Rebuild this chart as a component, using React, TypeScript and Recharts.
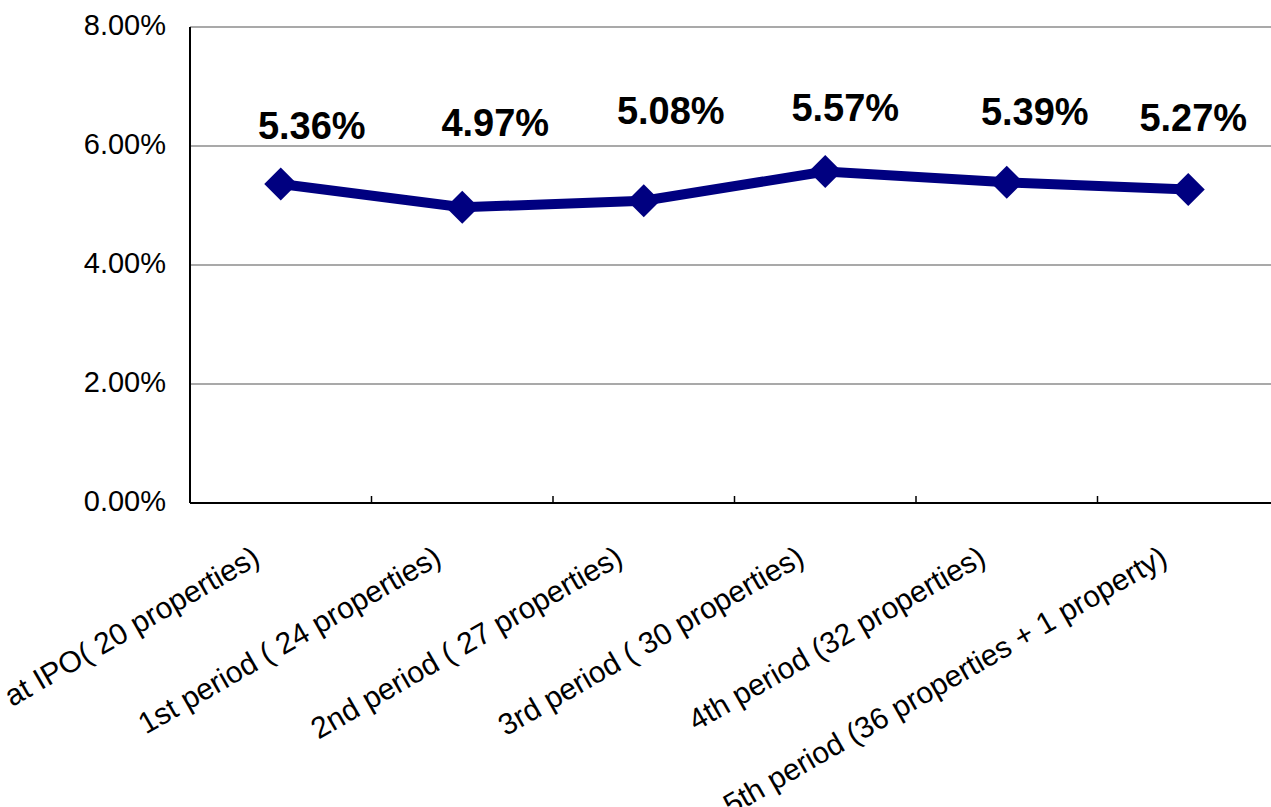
import React from "react";
import { LineChart, Line, XAxis, YAxis, CartesianGrid, LabelList } from "recharts";

const periods = [
    "at IPO( 20 properties)",
    "1st period ( 24 properties)",
    "2nd period ( 27 properties)",
    "3rd period ( 30 properties)",
    "4th period (32 properties)",
    "5th period (36 properties + 1 property)",
];
const yieldPct = [5.36, 4.97, 5.08, 5.57, 5.39, 5.27];
const yTicks = [0, 2, 4, 6, 8];

// value labels were hand-placed in the source sheet, so nudge each one
const labelDx = [31, 33, 27, 20, 28, 5];
const labelDy = [-45, -71, -77, -51, -57, -58];

const data = periods.map((p, i) => ({ period: p, value: yieldPct[i] }));

const W = 1289;
const H = 807;
const margin = { top: 27, right: 10, bottom: 0, left: 0 };
const yAxisW = 190;
const xAxisH = 304;
const step = (W - margin.left - margin.right - yAxisW) / periods.length;
const font = "'Liberation Sans', Arial, sans-serif";
const navy = "#000080";

const pct = (v: number) => `${v.toFixed(2)}%`;

function XTick(props: any) {
    const { x, y, payload } = props;
    const i = props.index ?? payload.index ?? 0;
    const ax = x - 19;
    const ay = y + 60;
    return (
        <g>
            {i < periods.length - 1 && (
                <line x1={x + step / 2} x2={x + step / 2} y1={y - 7} y2={y} stroke="#000" strokeWidth={1.5} />
            )}
            <text
                x={ax}
                y={ay}
                transform={`rotate(-30, ${ax}, ${ay})`}
                textAnchor="end"
                fontSize={30}
                fontFamily={font}
                fill="#000"
            >
                {payload.value}
            </text>
        </g>
    );
}

function YTick(props: any) {
    const { x, y, payload } = props;
    return (
        <text x={x} y={y} dy={8} textAnchor="end" fontSize={29} fontFamily={font} fill="#000">
            {pct(Number(payload.value))}
        </text>
    );
}

function Diamond(props: any) {
    const { cx, cy, index } = props;
    if (cx == null || cy == null) return <g key={`d${index}`} />;
    const r = 16.5;
    return (
        <path
            key={`d${index}`}
            d={`M${cx},${cy - r} L${cx + r},${cy} L${cx},${cy + r} L${cx - r},${cy} Z`}
            fill={navy}
        />
    );
}

function ValueLabel(props: any) {
    const { x, y, value, index } = props;
    return (
        <text
            x={x + labelDx[index]}
            y={y + labelDy[index]}
            textAnchor="middle"
            fontSize={38}
            fontWeight="bold"
            fontFamily={font}
            fill="#000"
        >
            {pct(Number(value))}
        </text>
    );
}

export default function App() {
    return (
        <div
            style={{
                position: "fixed",
                left: 0,
                top: 0,
                width: 1271,
                height: 807,
                overflow: "hidden",
                background: "#fff",
            }}
        >
            <LineChart width={W} height={H} data={data} margin={margin}>
                <CartesianGrid vertical={false} stroke="#555" strokeWidth={1.2} />
                <XAxis
                    dataKey="period"
                    scale="band"
                    interval={0}
                    height={xAxisH}
                    tickSize={0}
                    tickMargin={0}
                    tickLine={false}
                    axisLine={{ stroke: "#000", strokeWidth: 2 }}
                    tick={<XTick />}
                />
                <YAxis
                    domain={[0, 8]}
                    ticks={yTicks}
                    width={yAxisW}
                    tickSize={0}
                    tickMargin={24}
                    tickLine={false}
                    axisLine={{ stroke: "#000", strokeWidth: 2 }}
                    tick={<YTick />}
                />
                <Line
                    type="linear"
                    dataKey="value"
                    stroke={navy}
                    strokeWidth={10}
                    dot={(p: any) => <Diamond {...p} />}
                    activeDot={false}
                    isAnimationActive={false}
                >
                    <LabelList dataKey="value" content={(p: any) => <ValueLabel {...p} />} />
                </Line>
            </LineChart>
        </div>
    );
}
